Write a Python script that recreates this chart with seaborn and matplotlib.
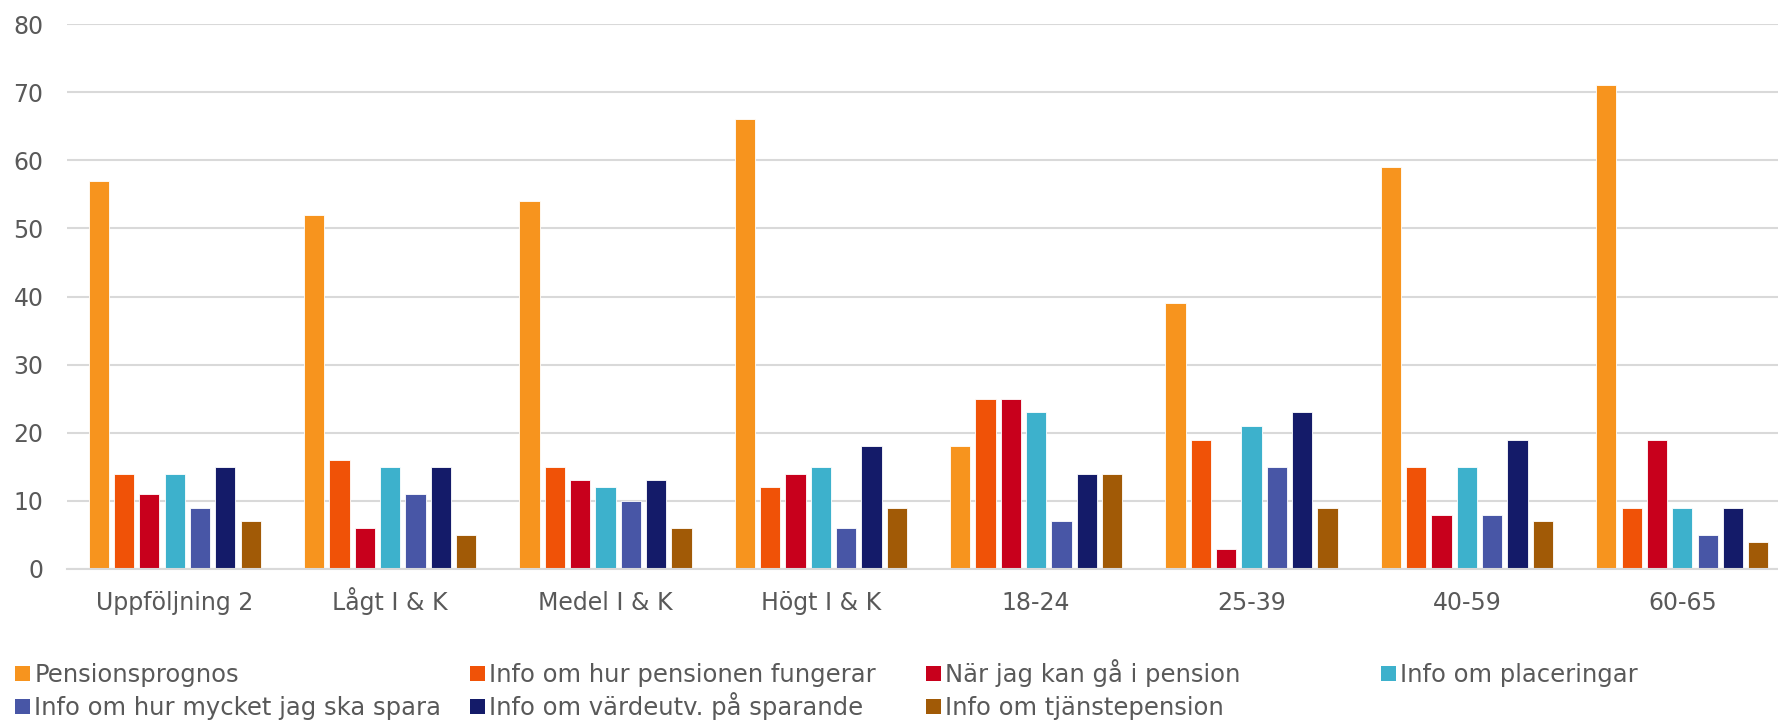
import matplotlib
matplotlib.use("Agg")
import matplotlib.pyplot as plt
import seaborn as sns
import pandas as pd

categories = ["Uppföljning 2", "Lågt I & K", "Medel I & K", "Högt I & K",
              "18-24", "25-39", "40-59", "60-65"]
series_names = ["Pensionsprognos", "Info om hur pensionen fungerar",
                "När jag kan gå i pension", "Info om placeringar",
                "Info om hur mycket jag ska spara", "Info om värdeutv. på sparande",
                "Info om tjänstepension"]
pensionsprognos = [57, 52, 54, 66, 18, 39, 59, 71]
hur_fungerar = [14, 16, 15, 12, 25, 19, 15, 9]
nar_pension = [11, 6, 13, 14, 25, 3, 8, 19]
placeringar = [14, 15, 12, 15, 23, 21, 15, 9]
hur_mycket = [9, 11, 10, 6, 7, 15, 8, 5]
vardeutv = [15, 15, 13, 18, 14, 23, 19, 9]
tjanstepension = [7, 5, 6, 9, 14, 9, 7, 4]
yticks = [0, 10, 20, 30, 40, 50, 60, 70, 80]

colors = ["#F7941E", "#F05207", "#C8001C", "#3DB1CC", "#4856A6", "#141B69", "#A15A06"]

all_series = [pensionsprognos, hur_fungerar, nar_pension, placeringar,
              hur_mycket, vardeutv, tjanstepension]
rows = []
for name, vals in zip(series_names, all_series):
    for c, v in zip(categories, vals):
        rows.append({"Kategori": c, "Serie": name, "Värde": v})
df = pd.DataFrame(rows)

sns.set_theme(style="white")
plt.rcParams["font.family"] = ["DejaVu Sans"]
text_color = "#595959"
grid_color = "#D9D9D9"

fig = plt.figure(figsize=(17.78, 7.2), dpi=100)
ax = fig.add_axes([67 / 1778, 1 - 569 / 720, 1723 / 1778, (569 - 24) / 720])

sns.barplot(data=df, x="Kategori", y="Värde", hue="Serie", order=categories,
            hue_order=series_names, palette=colors, saturation=1,
            width=0.823, gap=0.2, edgecolor="white", linewidth=0.6,
            ax=ax, legend=True, errorbar=None)

ax.set_ylim(0, 80)
ax.set_yticks(yticks)
ax.set_xlim(-0.5, len(categories) - 0.5)
ax.set_xlabel("")
ax.set_ylabel("")
ax.set_axisbelow(True)
ax.yaxis.grid(True, color=grid_color, linewidth=1.5)
ax.xaxis.grid(False)
for s in ["top", "right", "left"]:
    ax.spines[s].set_visible(False)
ax.spines["bottom"].set_color(grid_color)
ax.spines["bottom"].set_linewidth(1.5)
ax.tick_params(axis="x", length=0, pad=29.5, labelsize=17, labelcolor=text_color)
ax.tick_params(axis="y", length=0, pad=17, labelsize=17, labelcolor=text_color)
for lbl in ax.get_xticklabels():
    lbl.set_verticalalignment("baseline")

handles, labels = ax.get_legend_handles_labels()
ax.get_legend().remove()
hmap = dict(zip(labels, handles))

col_x = [15, 470, 926, 1381]
row_bottom = [687, 720]
layout = [
    (series_names[0], 0, 0), (series_names[1], 1, 0), (series_names[2], 2, 0),
    (series_names[3], 3, 0), (series_names[4], 0, 1), (series_names[5], 1, 1),
    (series_names[6], 2, 1),
]
for name, ci, ri in layout:
    leg = fig.legend([hmap[name]], [name], loc="lower left",
                     bbox_to_anchor=(col_x[ci] / 1778, 1 - row_bottom[ri] / 720),
                     bbox_transform=fig.transFigure, frameon=False,
                     fontsize=17.5, handlelength=0.6, handleheight=0.6,
                     handletextpad=0.2, borderpad=0, borderaxespad=0)
    for t in leg.get_texts():
        t.set_color(text_color)
    for h in leg.legend_handles:
        h.set_edgecolor("none")

fig.savefig("out.png", dpi=100)
